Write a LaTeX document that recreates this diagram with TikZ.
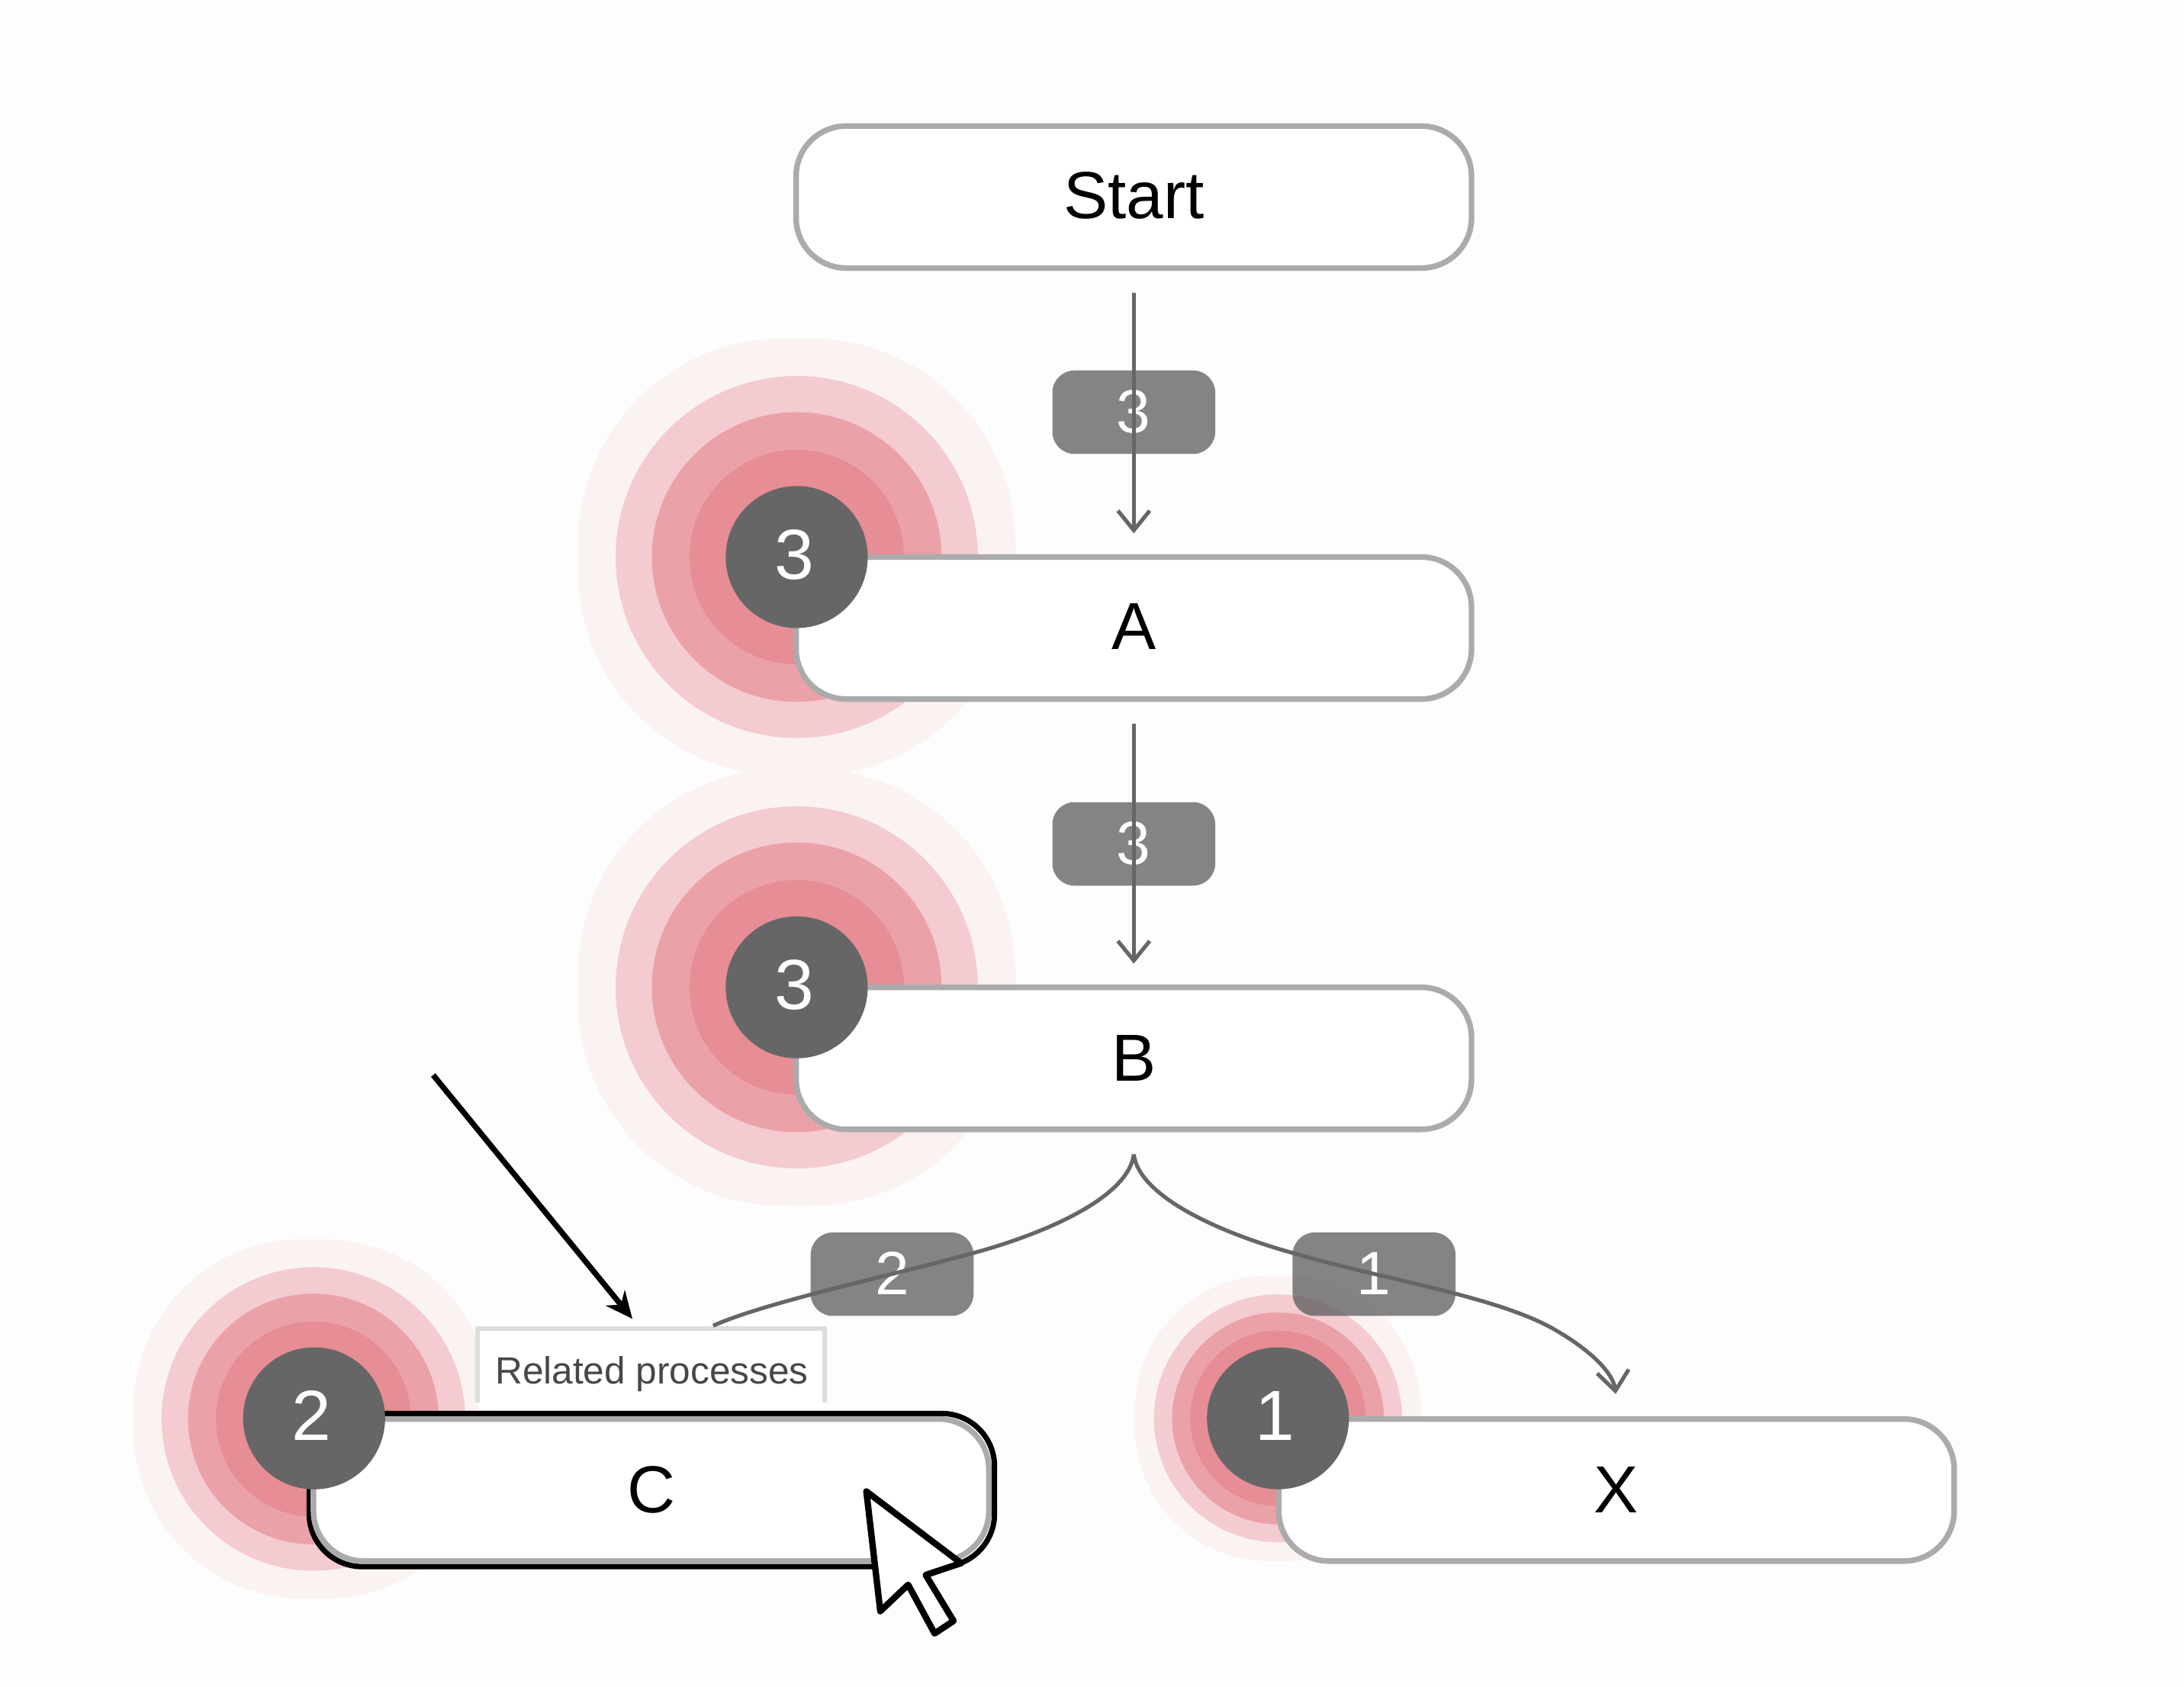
\documentclass[tikz,border=0pt]{standalone}
\usepackage{fontspec}
\setmainfont{Liberation Sans}
\usetikzlibrary{arrows.meta}
\definecolor{PageGrey}{HTML}{FDFDFD}
\definecolor{HaloA}{HTML}{FBF3F2}
\definecolor{HaloB}{HTML}{F3CBD0}
\definecolor{HaloC}{HTML}{EBA1A8}
\definecolor{HaloD}{HTML}{E78D95}
\definecolor{BoxEdge}{HTML}{ABABAB}
\definecolor{DarkGrey}{HTML}{666666}
\definecolor{TipEdge}{HTML}{DDDDDD}
\begin{document}
\begin{tikzpicture}
    [x=0.02cm, y=-0.02cm,
    ProcessNode/.style={rectangle, rounded corners=0.72cm, draw=BoxEdge, fill=white, line width=2.3pt,
        minimum width=9.7cm, minimum height=2.04cm, inner sep=0pt, outer sep=0pt,
        font=\fontsize{27.2}{32}\selectfont},
    CountNode/.style={circle, fill=DarkGrey, text=white, minimum size=2.04cm, inner sep=0pt, text depth=2.2pt,
        execute at end node={\kern 2.2pt}, font=\fontsize{29}{34}\selectfont},
    EdgeBadge/.style={rectangle, rounded corners=0.32cm, fill=black!64, fill opacity=0.75, text opacity=1,
        text=white, minimum width=2.34cm, minimum height=1.2cm, inner sep=0pt, text depth=0.6pt,
        font=\fontsize{25}{30}\selectfont},
    FlowEdge/.style={draw=DarkGrey, line width=1.6pt, -{Straight Barb[length=8pt,width=13pt]}}]
     \fill[PageGrey] (0,0) rectangle (1568,1211);
     \useasboundingbox (0,0) rectangle (1568,1211);
     % halos
     \fill[HaloA, rounded corners=2.95cm] (415,243) rectangle (729,557);
     \fill[HaloB] (572,400) circle (130);
     \fill[HaloC] (572,400) circle (104);
     \fill[HaloD] (572,400) circle (77);
     \fill[HaloA, rounded corners=2.95cm] (415,552) rectangle (729,866);
     \fill[HaloB] (572,709) circle (130);
     \fill[HaloC] (572,709) circle (104);
     \fill[HaloD] (572,709) circle (77);
     \fill[HaloA, rounded corners=2.42cm] (96,890) rectangle (354,1148);
     \fill[HaloB] (225,1019) circle (109);
     \fill[HaloC] (225,1019) circle (90);
     \fill[HaloD] (225,1019) circle (70);
     \fill[HaloA, rounded corners=1.92cm] (815,916) rectangle (1020,1121);
     \fill[HaloB] (917.5,1018.5) circle (89);
     \fill[HaloC] (917.5,1018.5) circle (76);
     \fill[HaloD] (917.5,1018.5) circle (63);
     % process boxes
     \node[ProcessNode, text depth=1.4pt] (Start) at (814,141.5){Start};
     \node[ProcessNode, text depth=1.4pt] (A) at (814,451){A};
     \node[ProcessNode] (B) at (814,760){B};
     \node[ProcessNode] (X) at (1160.5,1070){X};
     \draw[black, line width=2.2pt, rounded corners=0.76cm] (222,1015) rectangle (714,1125);
     \node[ProcessNode] (C) at (467.5,1070){C};
     % tooltip
     \fill[white] (343,954) rectangle (592,1012);
     \draw[TipEdge, line width=1.8pt] (343,1007) -- (343,954) -- (592,954) -- (592,1007);
     \node (RelatedLabel) at (468,986.5){\fontsize{15.45}{18}\selectfont\color{black!72}Related processes};
     % counts
     \node[CountNode] (CountA) at (572,400){3};
     \node[CountNode] (CountB) at (572,709){3};
     \node[CountNode] (CountC) at (225.5,1018.5){2};
     \node[CountNode] (CountX) at (917.5,1018.5){1};
     \node[EdgeBadge] (BadgeA) at (814,296){3};
     \node[EdgeBadge] (BadgeB) at (814,606){3};
     \node[EdgeBadge] (BadgeC) at (640.5,915){2};
     \node[EdgeBadge] (BadgeX) at (986.5,915){1};
     % connectors
     \coordinate (Fork) at (814,829);
     \coordinate (RelatedJoin) at (512,952);
     \coordinate (XEntry) at (1160,1001);
     \coordinate (PointerStart) at (311,772);
     \coordinate (PointerEnd) at (454,947);
     \draw[FlowEdge, shorten <=0.36cm, shorten >=0.34cm] (Start) -- (A);
     \draw[FlowEdge, shorten <=0.36cm, shorten >=0.34cm] (A) -- (B);
     \draw[draw=DarkGrey, line width=1.6pt] (Fork) .. controls (810,860) and (750,886) .. (698,900)
        .. controls (640,916) and (550,935) .. (RelatedJoin);
     \draw[FlowEdge] (Fork) .. controls (818,860) and (878,886) .. (929,900)
        .. controls (990,918) and (1070,930) .. (1113,953)
        .. controls (1140,968) and (1158,985) .. (XEntry);
     \draw[black, line width=2.3pt, -{Stealth[length=11pt,width=10pt]}] (PointerStart) -- (PointerEnd);
     % cursor
     \draw[black, fill=white, line width=2.6pt, line join=round] (622,1071) -- (632,1157) -- (652,1138) -- (671,1173)
        -- (684.6,1164) -- (664.6,1131) -- (690,1122.5) -- cycle;
\end{tikzpicture}
\end{document}
